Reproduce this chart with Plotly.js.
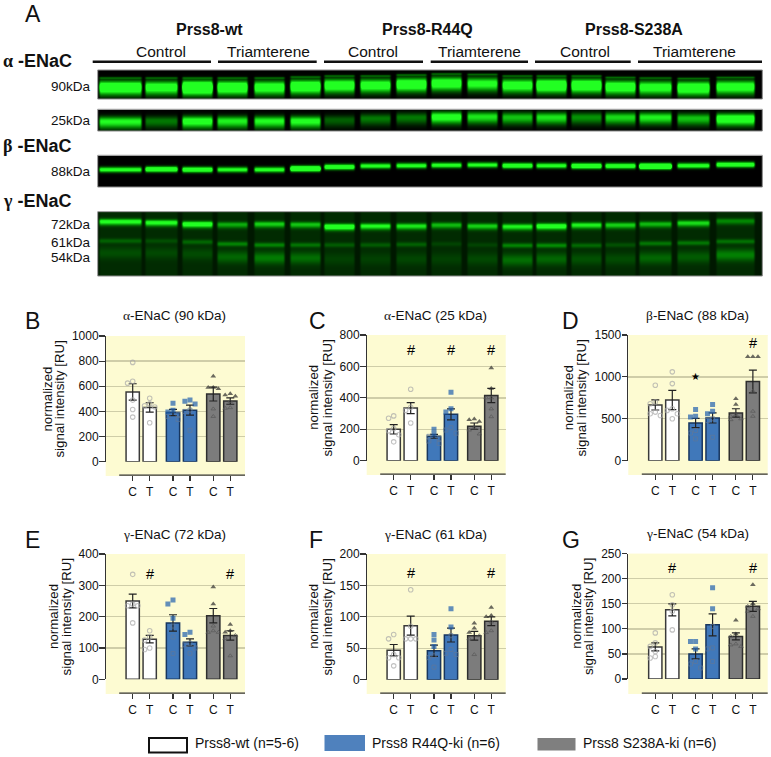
<!DOCTYPE html>
<html><head><meta charset="utf-8">
<script src="https://cdn.plot.ly/plotly-3.0.1.min.js"></script>
<style>html,body{margin:0;padding:0;background:#fff}</style></head>
<body><div id="chart" style="width:771px;height:757px"></div>
<script>
// ---- Data: bar means, s.e.m. and individual animals for every panel
var barLabels = ['C','T','C','T','C','T'];

var bMeans = [555,432,392,410,538,482];
var bSems  = [65,37,25,40,55,25];
var bPoints = [[790,640,625,490,415,355],[505,460,445,435,310],[465,410,395,375,360,335],[490,480,460,410,400,250],[680,590,590,580,420,360],[540,530,520,480,430,425]];

var cMeans = [200,335,155,295,220,415];
var cSems  = [30,35,12,35,20,45];
var cPoints = [[285,270,205,190,165,120],[455,340,320,240],[200,170,155,140,125,110],[435,330,310,210,195,175],[265,260,250,210,195,170],[590,460,400,400,330,280]];

var dMeans = [665,725,450,510,570,945];
var dSems  = [60,115,55,60,50,135];
var dPoints = [[900,700,680,580,560,540],[1060,920,620,600,560,500],[610,530,520,360,330,260],[670,590,560,500,480,280],[740,670,550,530,500,490],[1240,1240,1240,830,590,530]];

var eMeans = [250,128,180,118,203,140];
var eSems  = [22,12,26,11,23,15];
var ePoints = [[335,240,235,235,180],[155,135,125,100,95],[253,240,195,170,135,82],[150,143,115,110,100,83],[295,240,170,155,150,150],[175,155,150,140,130,75]];

var fMeans = [47,86,46,71,70,93];
var fSems  = [9,15,9,11,7,7];
var fPoints = [[72,65,40,35,35,22],[143,85,65,65,65],[72,63,53,38,35,20],[113,84,70,48,42,40],[90,82,75,70,65,40],[115,102,100,92,78,75]];

var gMeans = [64,138,50,108,85,145];
var gSems  = [8,12,10,22,7,10];
var gPoints = [[92,72,65,55,45,42],[168,148,135,98],[75,75,60,35,30,22],[182,140,105,62,60,35],[117,90,85,70,68,65],[188,150,145,140,135,125]];

// Western blot: lane centres and per-lane band strengths / heights
var laneCenters = [120,161,197,232,269,305,339,375,411,446,482,517,551,586,620,655,693,735];
var laneWidths  = [21,16,15,15,15,15,15,15,15,15,15,15,15,15,15,16,16,19];
var a90amp = [1.5,1.25,1.9,1.5,1.3,1.5,1.35,1.25,1.4,1.3,1.1,1.25,1.6,1.5,1.35,1.2,1.45,1.25];
var a90y   = [87,87,87,87,87,86,85,85,84,83,83.5,85,85,85,86.5,87,87.5,86.5];
var a25amp = [1.0,.45,1.15,.95,1.0,1.05,.35,.45,.45,1.15,.9,.75,.9,.55,.85,.95,.75,1.3];
var a25y   = [121.5,121,121,121,121,121,120,118.5,117.5,116.7,116.7,117.3,117.3,117.3,117.3,117.3,118.3,118.5];
var b88amp = [1.1,1.5,1.4,1.05,1.1,1.9,1.35,1.1,1.1,1.1,1.05,1.35,1.1,1.55,1.3,2.3,1.15,1.3];
var b88y   = [169.7,169.3,169.7,169.7,169.7,168.7,167,166,165.7,165.3,165,165.7,165.7,166,166,166.3,165.7,164.7];
var g72amp = [.9,.9,1.05,.5,.65,.6,1.15,.85,.75,.55,.65,.8,1.05,.8,.65,.55,.7,.35];
var g72y   = [221.5,222.5,224,224.5,224,224.5,226.5,226,226,225,226,226.5,226,225,225,224,223,221];
var g61amp = [.2,.13,.22,.33,.33,.27,.18,.18,.2,.09,.09,.33,.36,.23,.14,.28,.28,.26];
var g61y   = [241,241,242,244,245,245,245,245,244.5,244,245,245.5,245.5,245.5,245,243.5,243,241.5];
var g54amp = [.13,.11,.12,.22,.3,.25,.08,.08,.1,.08,.11,.25,.22,.14,.12,.22,.18,.32];
var g54y   = [253,253,254,257,258,258,259,259,259,259,259,260,259,259,259,258,257,255];

var F='"Liberation Sans",Arial,sans-serif';
var W=771,H=757;
var px=function(v){return v/W}, py=function(v){return 1-v/H};

var panels=[
 {l:'B',greek:'α',t:'-ENaC (90 kDa)',m:bMeans,s:bSems,p:bPoints,max:1000,dt:200,X:[105.7,245],T:336,Z:461.7,Bt:476,nameOff:58,marks:[]},
 {l:'C',greek:'α',t:'-ENaC (25 kDa)',m:cMeans,s:cSems,p:cPoints,max:800,dt:200,X:[366.7,505.7],T:335,Z:460.7,Bt:475,nameOff:52.7,marks:[['#',1,705],['#',3,705],['#',5,705]]},
 {l:'D',greek:'β',t:'-ENaC (88 kDa)',m:dMeans,s:dSems,p:dPoints,max:1500,dt:500,X:[628.3,767.7],T:335,Z:460.7,Bt:475,nameOff:59,marks:[['★',2,1000],['#',5,1410]]},
 {l:'E',greek:'γ',t:'-ENaC (72 kDa)',m:eMeans,s:eSems,p:ePoints,max:400,dt:100,X:[105.7,245],T:554,Z:679.3,Bt:694,nameOff:52.4,marks:[['#',1,335],['#',5,335]]},
 {l:'F',greek:'γ',t:'-ENaC (61 kDa)',m:fMeans,s:fSems,p:fPoints,max:200,dt:50,X:[366.7,505.7],T:554,Z:679.7,Bt:694,nameOff:52.7,marks:[['#',1,170],['#',5,170]]},
 {l:'G',greek:'γ',t:'-ENaC (54 kDa)',m:gMeans,s:gSems,p:gPoints,max:250,dt:50,X:[628.3,767.7],T:553.7,Z:679,Bt:694,nameOff:52,marks:[['#',1,222],['#',5,222]]}
];
var letters={B:[25,321],C:[309,321],D:[561.5,321],E:[25,540],F:[309,540],G:[561.5,540]};

var fills=['#ffffff','#ffffff','#4078ba','#4078ba','#7c7c7c','#7c7c7c'];
var lines=['#3a3a3a','#3a3a3a','#17365f','#17365f','#2e2e2e','#2e2e2e'];
var barX=function(i){return i+0.37*Math.floor(i/2)};

var data=[],shapes=[],annotations=[],layout={};
function note(x,y,txt,size,opts){
  annotations.push(Object.assign({xref:'paper',yref:'paper',x:px(x),y:py(y),text:txt,showarrow:false,borderpad:0,borderwidth:0,
    font:{family:F,size:size,color:'#111'},xanchor:'center',yanchor:'middle'},opts||{}));
}
function paperLine(x0,y0,x1,y1,c,w){
  shapes.push({type:'line',xref:'paper',yref:'paper',x0:px(x0),x1:px(x1),y0:py(y0),y1:py(y1),line:{color:c,width:w}});
}

panels.forEach(function(P,k){
  var n=k+1, xa=n===1?'x':'x'+n, ya=n===1?'y':'y'+n;
  var xName=n===1?'xaxis':'xaxis'+n, yName=n===1?'yaxis':'yaxis'+n;
  var unit=17; // px per lane step
  var firstBar=P.X[0]+27;
  var xmin=-(firstBar-P.X[0])/unit, xmax=xmin+(P.X[1]-P.X[0])/unit;
  var pos=barLabels.map(function(_,i){return barX(i)});
  // Yellow panel background
  shapes.push({type:'rect',xref:'paper',yref:'paper',layer:'below',x0:px(P.X[0]),x1:px(P.X[1]),y0:py(P.T),y1:py(P.Bt),fillcolor:'#fdfbd2',line:{width:0}});
  // Detached x-axis line
  paperLine(P.X[0]+13.5,P.Bt-0.8,P.X[1],P.Bt-0.8,'#333',1.3);
  data.push({type:'bar',x:pos,y:P.m,xaxis:xa,yaxis:ya,width:0.78,showlegend:false,hoverinfo:'skip',
    marker:{color:fills,line:{color:lines,width:1.5}},
    error_y:{type:'data',array:P.s,visible:true,color:'#222',thickness:1.2,width:4}});
  var mx=[],my=[],ms=[],mc=[],mz=[],mw=[];
  var pxPerVal=(P.Z-P.T)/P.max;
  P.p.forEach(function(vals,i){
    var prev=null,run=0;
    vals.forEach(function(v){
      if(prev!==null && Math.abs(prev-v)*pxPerVal<4.5){run++;}else{run=0;}
      var off=run===0?0:(run%2===1?-0.3:0.3);
      prev=v;
      mx.push(pos[i]+off);my.push(v);
      var above=v>P.m[i];
      if(i<2){ms.push('circle-open');mc.push('#a8a8a8');mz.push(4.5);mw.push(1.1);}
      else if(i<4){ms.push(above?'square':'square-open');mc.push(above?'#1f5fae':'#5f7898');mz.push(above?5:4);mw.push(above?0:1);}
      else{ms.push(above?'triangle-up':'triangle-up-open');mc.push(above?'#2b2b2b':'#585858');mz.push(above?5:4);mw.push(above?0:1);}
    });
  });
  data.push({type:'scatter',mode:'markers',x:mx,y:my,xaxis:xa,yaxis:ya,showlegend:false,hoverinfo:'skip',
    marker:{symbol:ms,color:mc,size:mz,line:{color:mc,width:mw}}});
  var yt=[];for(var v=0;v<=P.max;v+=P.dt)yt.push(v);
  layout[xName]={domain:[px(P.X[0]),px(P.X[1])],range:[xmin,xmax],anchor:'free',position:py(P.Bt-0.8),
    tickmode:'array',tickvals:pos,ticktext:barLabels,ticks:'outside',ticklen:5,tickwidth:1.2,tickcolor:'#333',
    showgrid:false,zeroline:false,showline:false,tickfont:{family:F,size:12,color:'#111'}};
  layout[yName]={domain:[py(P.Z),py(P.T)],range:[0,P.max],anchor:xa,
    tickmode:'array',tickvals:yt,ticks:'outside',ticklen:5.5,tickwidth:1.2,tickcolor:'#333',ticklabelstandoff:-2,
    showgrid:true,gridcolor:'#cfcda8',gridwidth:1.3,zeroline:false,showline:true,linecolor:'#333',linewidth:1.2,
    tickfont:{family:F,size:12,color:'#111'},
    title:{text:'signal intensity [RU]',standoff:4,font:{family:F,size:13.3,color:'#111'}}};
  note(P.X[0]-P.nameOff,(P.T+P.Z)/2,'normalized',13.3,{textangle:-90});
  // hide the gridline that would sit on the top edge of the yellow panel
  shapes.push({type:'line',xref:xa,yref:ya,layer:'between',x0:xmin,x1:xmax,y0:P.max,y1:P.max,line:{color:'#fdfbd2',width:1.8}});
  // panel title and letter
  note((P.X[0]+P.X[1])/2-0.5,P.T-20,'<span style="font-family:\'Liberation Serif\'">'+P.greek+'</span>'+P.t,13.5);
  var L=letters[P.l];
  note(L[0],L[1],P.l,23,{xanchor:'left'});
  P.marks.forEach(function(M){
    annotations.push({xref:xa,yref:ya,x:pos[M[1]],y:M[2],text:M[0],showarrow:false,xanchor:'center',yanchor:'middle',
      font:{family:F,size:M[0]==='#'?14.5:10,color:'#000'}});
  });
});

// ---- Blot strips as heatmaps on one pixel-scaled axis pair
var bx0=97.7,bx1=762.3,by0=70,by1=276;
function laneMask(x,i){
  var d=Math.abs(x-laneCenters[i]),w=laneWidths[i];
  var t=Math.max(0,Math.min(1,(w-d)/3.5+0.5));
  return t*t*(3-2*t);
}
function strip(y0,y1,bands,bg,laneBg){
  var z=[],ys=[];
  for(var y=Math.ceil(y0);y<y1;y++){
    ys.push(y+0.5);var row=[];
    for(var x=Math.ceil(bx0);x<bx1;x++){
      var v=bg;
      for(var i=0;i<laneCenters.length;i++){
        var L=laneMask(x,i);
        if(L<=0)continue;
        v+=laneBg*L;
        bands.forEach(function(B){
          var dy=Math.abs(y+0.5-B.y[i]);
          var sh=(y+0.5<B.y[i])?B.h:B.h*(B.tail||1);
          v+=B.a[i]*L*Math.exp(-Math.pow(dy/sh,2));
        });
      }
      row.push(Math.min(1,v));
    }
    z.push(row);
  }
  var xs=[];for(var x=Math.ceil(bx0);x<bx1;x++)xs.push(x+0.5);
  data.push({type:'heatmap',x:xs,y:ys,z:z,xaxis:'x7',yaxis:'y7',zmin:0,zmax:1,showscale:false,hoverinfo:'skip',
    colorscale:[[0,'#000000'],[0.5,'#028502'],[1,'#22ff22']]});
  shapes.push({type:'rect',xref:'paper',yref:'paper',x0:px(bx0),x1:px(bx1),y0:py(y0),y1:py(y1),line:{color:'#8a8a8a',width:1},layer:'above'});
}
var upper=a90y.map(function(v){return v-9});
var upperAmp=a90amp.map(function(v){return 0.3});
strip(70,99,[{a:a90amp,y:a90y,h:5.5,tail:1.35},{a:upperAmp,y:upper,h:1.1}],0,0);
strip(109.3,131,[{a:a25amp,y:a25y,h:4.6,tail:1.5}],0,0);
strip(155.3,187,[{a:b88amp,y:b88y,h:2.6}],0,0);
strip(211.7,276,[{a:g72amp,y:g72y,h:2.5,tail:1.4},{a:g61amp,y:g61y,h:2.4},{a:g54amp,y:g54y,h:6}],0.09,0.07);

layout.xaxis7={domain:[px(bx0),px(bx1)],range:[bx0,bx1],anchor:'y7',visible:false,fixedrange:true};
layout.yaxis7={domain:[py(by1),py(by0)],range:[by1,by0],anchor:'x7',visible:false,fixedrange:true};

// ---- Blot header text and bars
note(33,14,'A',23);
var headers=[['Prss8-wt',210],['Prss8-R44Q',427],['Prss8-S238A',634]];
headers.forEach(function(h){note(h[1],29,'<b>'+h[0]+'</b>',16)});
var treatSegs=[['Control',161,92.7,211],['Triamterene',268,218,316.7],['Control',373,324,423],['Triamterene',479,430.7,528],['Control',585,535,630.7],['Triamterene',694,638,762]];
treatSegs.forEach(function(s){note(s[1],51,s[0],15.5);paperLine(s[2],61.7,s[3],61.7,'#111',2.6)});
var proteinLabels=[['α',61],['β',146],['γ',201]];
proteinLabels.forEach(function(p){
  note(2.5,p[1],'<b><span style="font-family:\'Liberation Serif\'">'+p[0]+'</span> -ENaC</b>',18,{xanchor:'left'});
});
var kdaLabels=[['90kDa',86.7],['25kDa',120.7],['88kDa',171],['72kDa',224],['61kDa',242.7],['54kDa',258]];
kdaLabels.forEach(function(k){note(91,k[1],k[0],13.5,{xanchor:'right'})});

// ---- Legend
var legendItems=[['Prss8-wt (n=5-6)',149,187,738,752.5,'#ffffff','#111',2,194.5],
 ['Prss8 R44Q-ki (n=6)',324.5,365,735,751,'#4f81bd','#4f81bd',0,372],
 ['Prss8 S238A-ki (n=6)',537.5,575.5,738,750.5,'#7f7f7f','#7f7f7f',0,583]];
legendItems.forEach(function(it){
  shapes.push({type:'rect',xref:'paper',yref:'paper',x0:px(it[1]),x1:px(it[2]),y0:py(it[3]),y1:py(it[4]),fillcolor:it[5],line:{color:it[6],width:it[7]}});
  note(it[8],743.3,it[0],14,{xanchor:'left'});
});

layout.width=W;layout.height=H;layout.margin={l:0,r:0,t:0,b:0};
layout.paper_bgcolor='#fff';layout.plot_bgcolor='rgba(0,0,0,0)';
layout.showlegend=false;layout.barmode='overlay';
layout.shapes=shapes;layout.annotations=annotations;
Plotly.newPlot('chart',data,layout,{displayModeBar:false,staticPlot:true});
</script></body></html>
